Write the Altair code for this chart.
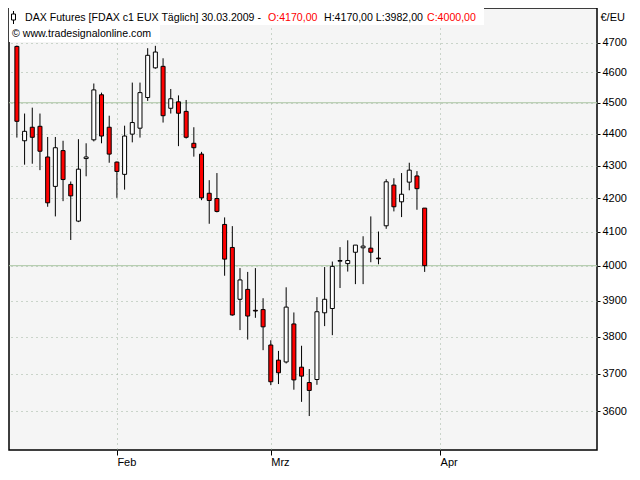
import altair as alt
import pandas as pd

# ---- data ----
first_day = "2009-01-14"
last_day = "2009-03-30"
opens = [4687, 4378, 4421, 4424, 4327, 4236, 4347, 4242, 4131, 4322,
         4381, 4526, 4421, 4311, 4273, 4399, 4418, 4517, 4615, 4620,
         4482, 4503, 4472, 4370, 4336, 4215, 4199, 4121, 4053, 3904,
         3932, 3873, 3875, 3777, 3736, 3731, 3835, 3717, 3676, 3684,
         3866, 3878, 4013, 4006, 4039, 4052, 4051, 4022, 4117, 4240,
         4189, 4249, 4268, 4170]
highs = [4690, 4465, 4484, 4465, 4390, 4390, 4378, 4251, 4383, 4370,
         4563, 4533, 4458, 4313, 4426, 4566, 4566, 4681, 4689, 4647,
         4545, 4524, 4509, 4421, 4343, 4255, 4277, 4142, 4116, 3993,
         3982, 3993, 3907, 3790, 3761, 3938, 3867, 3775, 3712, 3910,
         3996, 4012, 4054, 4074, 4060, 4086, 4145, 4100, 4258, 4261,
         4277, 4309, 4283, 4170]
lows = [4388, 4303, 4306, 4286, 4174, 4145, 4191, 4075, 4128, 4267,
        4376, 4370, 4309, 4201, 4226, 4373, 4388, 4506, 4612, 4436,
        4465, 4361, 4385, 4328, 4194, 4123, 4157, 3971, 3858, 3818,
        3792, 3852, 3763, 3669, 3672, 3727, 3657, 3625, 3588, 3670,
        3829, 3804, 3936, 3983, 3947, 3947, 4010, 4004, 4108, 4160,
        4143, 4224, 4165, 3982]
closes = [4440, 4408, 4389, 4345, 4186, 4356, 4257, 4207, 4289, 4327,
          4542, 4393, 4336, 4282, 4393, 4436, 4533, 4657, 4668, 4458,
          4513, 4466, 4389, 4356, 4201, 4193, 4160, 4019, 3860, 3959,
          3857, 3871, 3827, 3678, 3702, 3882, 3683, 3693, 3655, 3869,
          3904, 3998, 4015, 4015, 4060, 4057, 4039, 4020, 4250, 4174,
          4212, 4286, 4229, 4000]
month_starts = ["2009-02-02", "2009-03-02", "2009-04-01"]
month_labels = ["Feb", "Mrz", "Apr"]
price_ticks = [3600, 3700, 3800, 3900, 4000, 4100, 4200, 4300, 4400, 4500, 4600, 4700]
solid_levels = [4000, 4500]
header_main = "DAX Futures [FDAX c1 EUX  Täglich] 30.03.2009 - "
header_open = "O:4170,00"
header_hl = "H:4170,00 L:3982,00"
header_close = "C:4000,00"
header_copy = "© www.tradesignalonline.com"
unit_label = "€/EU"

# ---- build table ----
calendar = list(pd.bdate_range(first_day, "2009-04-30"))
days = list(pd.bdate_range(first_day, last_day))
df = pd.DataFrame({
    "idx": [calendar.index(d) for d in days],
    "open": opens, "high": highs, "low": lows, "close": closes,
})
tick_idx = [calendar.index(pd.Timestamp(d)) for d in month_starts]
label_expr = "''"
for v, lab in zip(reversed(tick_idx), reversed(month_labels)):
    label_expr = f"datum.value == {v} ? '{lab}' : ({label_expr})"

FONT = "Liberation Sans"
W, H = 588, 442
GRID = "#9fb39f"

xscale = alt.Scale(domain=[-0.375, 74.75], nice=False, zero=False)
yscale = alt.Scale(type="log", domain=[3501, 4819], nice=False, zero=False)

xaxis = alt.Axis(values=tick_idx, labelExpr=label_expr, title=None, grid=True,
                 gridDash=[1, 4], gridColor=GRID, gridWidth=1,
                 tickSize=5, tickColor="black", domain=False,
                 labelAlign="left", labelPadding=1, labelFont=FONT,
                 labelFontSize=11, labelColor="black", labelFlush=False)
yaxis = alt.Axis(values=price_ticks, orient="right", format="d", grid=True,
                 gridDash=[1, 4], gridColor=GRID, gridWidth=1,
                 tickSize=3, tickColor="black", domain=False, labelPadding=2,
                 labelFont=FONT, labelFontSize=11, labelColor="black",
                 title=unit_label, titleAngle=0, titleAlign="left",
                 titleBaseline="top", titleX=3, titleY=3, titleFont=FONT,
                 titleFontSize=11, titleFontWeight="normal", titleColor="black")

base = alt.Chart(df).encode(x=alt.X("idx:Q", scale=xscale, axis=xaxis))

levels = alt.Chart(pd.DataFrame({"lvl": solid_levels})).mark_rule(
    color="#aac5a2", strokeWidth=1).encode(
    y=alt.Y("lvl:Q", scale=yscale, axis=yaxis))

wicks = base.mark_rule(color="black", strokeWidth=1).encode(
    y=alt.Y("low:Q", scale=yscale, axis=yaxis), y2="high:Q")

bodies = base.mark_bar(size=4, stroke="black", strokeWidth=1).encode(
    y=alt.Y("open:Q", scale=yscale, axis=yaxis), y2="close:Q",
    fill=alt.condition("datum.close < datum.open", alt.value("#ff0000"), alt.value("white")))

one = pd.DataFrame({"k": [0]})
box1 = alt.Chart(one).mark_rect(color="white").encode(
    x=alt.value(0), x2=alt.value(475), y=alt.value(0), y2=alt.value(17))
box2 = alt.Chart(one).mark_rect(color="white").encode(
    x=alt.value(0), x2=alt.value(151), y=alt.value(17), y2=alt.value(34))
icon_line = alt.Chart(one).mark_rule(color="black").encode(
    x=alt.value(4.5), y=alt.value(3), y2=alt.value(16))
icon_box = alt.Chart(one).mark_rect(fill="white", stroke="black", strokeWidth=1).encode(
    x=alt.value(2.5), x2=alt.value(6.5), y=alt.value(6), y2=alt.value(12))


def txt(s, x, y, color):
    return alt.Chart(pd.DataFrame({"t": [s]})).mark_text(
        align="left", baseline="middle", font=FONT, fontSize=10.6, color=color).encode(
        x=alt.value(x), y=alt.value(y), text="t:N")


texts = [
    txt(header_main, 16, 10, "black"),
    txt(header_open, 259, 10, "#ff0000"),
    txt(header_hl, 315, 10, "black"),
    txt(header_close, 418, 10, "#ff0000"),
    txt(header_copy, 3, 26, "black"),
]

chart = alt.layer(levels, wicks, bodies, box1, box2, icon_line, icon_box, *texts).properties(
    width=W, height=H, background="white",
    padding={"left": 0, "top": 0, "right": 2, "bottom": 2}
).configure_view(fill="#f5f5f5", stroke="black", strokeWidth=1.5)

chart.save("out.html", embed_options={"renderer": "svg", "actions": False})
